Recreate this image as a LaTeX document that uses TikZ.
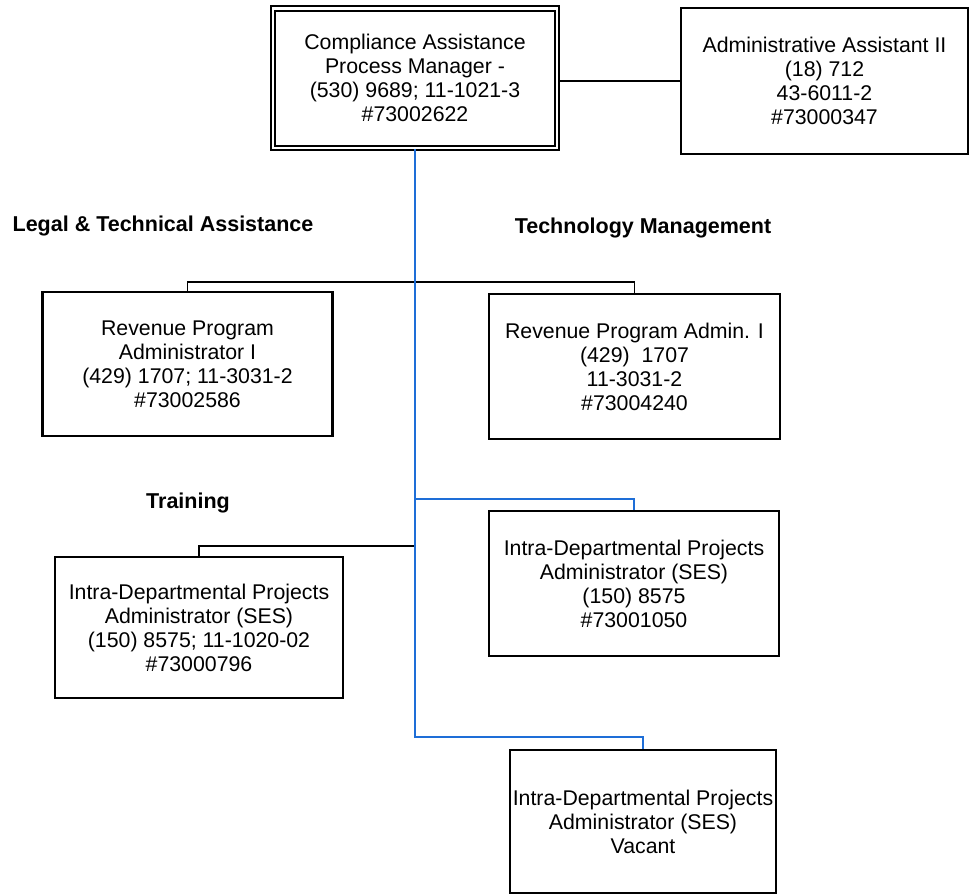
\documentclass[tikz,border=0pt]{standalone}
\usepackage{fontspec}
\setmainfont{Liberation Sans}
\usetikzlibrary{calc}
\definecolor{linkblue}{RGB}{30,110,215}
\begin{document}
\begin{tikzpicture}[x=1pt,y=-1pt,
  post/.style={draw=black,line width=2.2pt,align=center,inner sep=0pt,
    font=\fontsize{21.3}{24}\selectfont},
  headpost/.style={post,double,line width=2pt,double distance=2.6pt},
  head/.style={font=\bfseries\fontsize{21.5}{24}\selectfont,inner sep=0pt},
  link/.style={line width=1.6pt,black},
  bluelink/.style={line width=1.6pt,linkblue}]
\fill[white] (0,0) rectangle (975,896);
\useasboundingbox (0,0) rectangle (975,896);

% positions
\node[headpost,minimum width=284pt,minimum height=139.5pt] (cap) at (415,78.25)
  {Compliance Assistance\\Process Manager -\\(530) 9689; 11-1021-3\\\#73002622};
\node[post,minimum width=287pt,minimum height=146pt] (aa) at (824.5,81)
  {Administrative Assistant II\\(18) 712\\43-6011-2\\\#73000347};
\node[post,minimum width=290pt,minimum height=144pt] (rpa1) at (187.5,364)
  {Revenue Program\\Administrator I\\(429) 1707; 11-3031-2\\\#73002586};
\node[post,minimum width=291pt,minimum height=145pt] (rpa2) at (634.5,366.5)
  {Revenue Program Admin. I\\(429)\ \ 1707\\11-3031-2\\\#73004240};
\node[post,minimum width=290pt,minimum height=145pt] (idpa2) at (634,583.5)
  {Intra-Departmental Projects\\Administrator (SES)\\(150) 8575\\\#73001050};
\node[post,minimum width=288pt,minimum height=141pt] (idpa1) at (199,627.5)
  {Intra-Departmental Projects\\Administrator (SES)\\(150) 8575; 11-1020-02\\\#73000796};
\node[post,minimum width=266pt,minimum height=143pt] (vac) at (643,821.5)
  {Intra-Departmental Projects\\Administrator (SES)\\Vacant};

% section headings
\node[head] (h1) at (163,226) {Legal \& Technical Assistance};
\node[head] (h2) at (643,228) {Technology Management};
\node[head] (h3) at (188,503) {Training};

% junctions on the main spine
\coordinate (j1) at (415,282);
\coordinate (j2) at (415,499);
\coordinate (j3) at (415,546);

% black connectors
\draw[link] (aa.west -| cap.east) -- (aa.west);
\draw[link] (rpa1.north) |- (j1) -| (rpa2.north);
\draw[link] (j3) -| (idpa1.north);

% blue connectors
\draw[bluelink] (cap.south) |- ($(vac.north)+(0,-12)$) -| (vac.north);
\draw[bluelink] (j2) -| (idpa2.north);
\end{tikzpicture}
\end{document}
